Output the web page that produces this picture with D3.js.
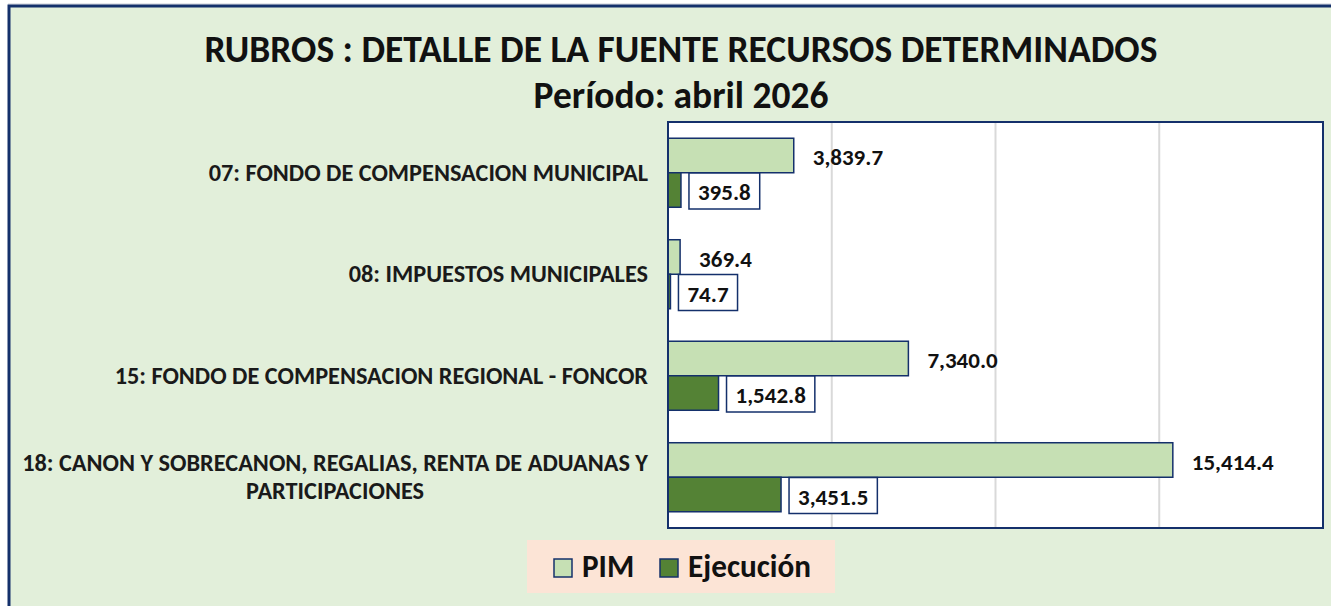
<!DOCTYPE html>
<html><head><meta charset="utf-8">
<script src="https://cdn.jsdelivr.net/npm/d3@7"></script>
<style>html,body{margin:0;padding:0;background:#fff;overflow:hidden}</style>
</head><body>
<svg id="c" width="1331" height="606"></svg>
<script>
const titleLines = ["RUBROS : DETALLE DE LA FUENTE RECURSOS DETERMINADOS", "Período: abril 2026"];
const categories = [
  ["07: FONDO DE COMPENSACION MUNICIPAL"],
  ["08: IMPUESTOS MUNICIPALES"],
  ["15: FONDO DE COMPENSACION REGIONAL - FONCOR "],
  ["18: CANON Y SOBRECANON, REGALIAS, RENTA DE ADUANAS Y", "PARTICIPACIONES"]
];
const seriesNames = ["PIM", "Ejecución"];
const pimValues = [3839.7, 369.4, 7340.0, 15414.4];
const ejecValues = [395.8, 74.7, 1542.8, 3451.5];
const xTicks = [0, 5000, 10000, 15000, 20000];

const FONT = "Carlito, Calibri, Lato, 'Open Sans', sans-serif";
const NAVY = "#14306b";
const colors = {"PIM": "#C6E0B4", "Ejecución": "#548235"};
const svg = d3.select("#c");

function fitSize(text, target, base) {
  const t = svg.append("text").attr("font-family", FONT).attr("font-weight", "bold")
    .attr("font-size", base).text(text);
  const w = t.node().getComputedTextLength();
  t.remove();
  return base * target / w;
}

// frame
svg.append("rect").attr("x", 0).attr("y", 0).attr("width", 1331).attr("height", 606).attr("fill", "#fff");
svg.append("line").attr("x1", 8).attr("x2", 1331).attr("y1", 4).attr("y2", 4).attr("stroke", "#c9ccd6").attr("stroke-width", 1);
svg.append("rect").attr("x", 9).attr("y", 6).attr("width", 1340).attr("height", 620)
  .attr("fill", "#E2EFDA").attr("stroke", NAVY).attr("stroke-width", 3);

// title
const tSize = fitSize(titleLines[0], 953, 30);
svg.selectAll("text.title").data(titleLines).join("text").attr("class", "title")
  .attr("x", 681).attr("y", (d, i) => i === 0 ? 62 : 108)
  .attr("text-anchor", "middle").attr("font-family", FONT).attr("font-weight", "bold")
  .attr("font-size", tSize).attr("fill", "#111").text(d => d);

// plot area
const pl = 668, pr = 1323, pt = 122, pb = 528;
const x = d3.scaleLinear().domain([0, 20000]).range([pl, pr]);
const y = d3.scaleBand().domain(d3.range(categories.length)).range([pt, pb]).paddingInner(0.32).paddingOuter(0.16);
const ys = d3.scaleBand().domain(seriesNames).range([0, y.bandwidth()]);

svg.append("rect").attr("x", pl).attr("y", pt).attr("width", pr - pl).attr("height", pb - pt).attr("fill", "#fff");
svg.append("g").selectAll("line").data(xTicks.slice(1, -1)).join("line")
  .attr("x1", d => x(d)).attr("x2", d => x(d)).attr("y1", pt).attr("y2", pb)
  .attr("stroke", "#D9D9D9").attr("stroke-width", 2);

const rows = categories.map((c, i) => ({i, c, pim: pimValues[i], ej: ejecValues[i]}));

// bars
const g = svg.append("g");
g.selectAll("rect.pim").data(rows).join("rect").attr("class", "pim")
  .attr("x", x(0)).attr("y", d => y(d.i) + ys("PIM"))
  .attr("width", d => x(d.pim) - x(0)).attr("height", ys.bandwidth())
  .attr("fill", colors["PIM"]).attr("stroke", NAVY).attr("stroke-width", 1.5);
g.selectAll("rect.ej").data(rows).join("rect").attr("class", "ej")
  .attr("x", x(0)).attr("y", d => y(d.i) + ys("Ejecución"))
  .attr("width", d => x(d.ej) - x(0)).attr("height", ys.bandwidth())
  .attr("fill", colors["Ejecución"]).attr("stroke", NAVY).attr("stroke-width", 1.5);

// plot border
svg.append("rect").attr("x", pl).attr("y", pt).attr("width", pr - pl).attr("height", pb - pt)
  .attr("fill", "none").attr("stroke", NAVY).attr("stroke-width", 2);

const fmt = d3.format(",.1f");
const lSize = fitSize("15,414.4", 82, 18);

// PIM labels
svg.selectAll("text.pl").data(rows).join("text").attr("class", "pl")
  .attr("x", d => x(d.pim) + 19).attr("y", d => y(d.i) + ys("PIM") + ys.bandwidth() / 2 + 2)
  .attr("dominant-baseline", "central").attr("font-family", FONT).attr("font-weight", "bold")
  .attr("font-size", lSize).attr("fill", "#111").text(d => fmt(d.pim));

// Ejecución labels with boxes
const eg = svg.selectAll("g.el").data(rows).join("g").attr("class", "el");
eg.each(function (d) {
  const gg = d3.select(this);
  const cy = y(d.i) + ys("Ejecución") + ys.bandwidth() / 2 + 1;
  const bx = x(d.ej) + 8;
  const r = gg.append("rect");
  const t = gg.append("text").attr("x", bx + 9).attr("y", cy + 1)
    .attr("dominant-baseline", "central").attr("font-family", FONT).attr("font-weight", "bold")
    .attr("font-size", lSize).attr("fill", "#111").text(fmt(d.ej));
  const w = t.node().getComputedTextLength();
  r.attr("x", bx).attr("y", cy - 18).attr("width", w + 18).attr("height", 36)
    .attr("fill", "#fff").attr("stroke", NAVY).attr("stroke-width", 1.5);
});

// category labels
const cSize = fitSize(categories[3][0], 626, 17);
const cg = svg.selectAll("g.cat").data(rows).join("g").attr("class", "cat");
cg.each(function (d) {
  const gg = d3.select(this);
  const cy = y(d.i) + y.bandwidth() / 2;
  const n = d.c.length;
  const ts = gg.selectAll("text").data(d.c).join("text")
    .attr("y", (s, k) => cy + (k - (n - 1) / 2) * 28)
    .attr("dominant-baseline", "central").attr("text-anchor", "middle")
    .attr("font-family", FONT).attr("font-weight", "bold").attr("font-size", cSize)
    .attr("fill", "#1a1a1a").text(s => s);
  let maxW = 0;
  ts.each(function () { maxW = Math.max(maxW, this.getComputedTextLength()); });
  ts.attr("x", 648 - maxW / 2);
});

// legend
svg.append("rect").attr("x", 527).attr("y", 540).attr("width", 308).attr("height", 53).attr("fill", "#FCE4D6");
const legSize = fitSize("Ejecución", 123, 26);
const legX = {"PIM": 554, "Ejecución": 660};
const lg = svg.selectAll("g.leg").data(seriesNames).join("g").attr("class", "leg");
lg.append("rect").attr("x", d => legX[d]).attr("y", 559).attr("width", 18).attr("height", 18)
  .attr("fill", d => colors[d]).attr("stroke", NAVY).attr("stroke-width", 1.5);
lg.append("text").attr("x", d => legX[d] + 28).attr("y", 577)
  .attr("font-family", FONT).attr("font-weight", "bold").attr("font-size", legSize)
  .attr("fill", "#111").text(d => d);
</script>
</body></html>
